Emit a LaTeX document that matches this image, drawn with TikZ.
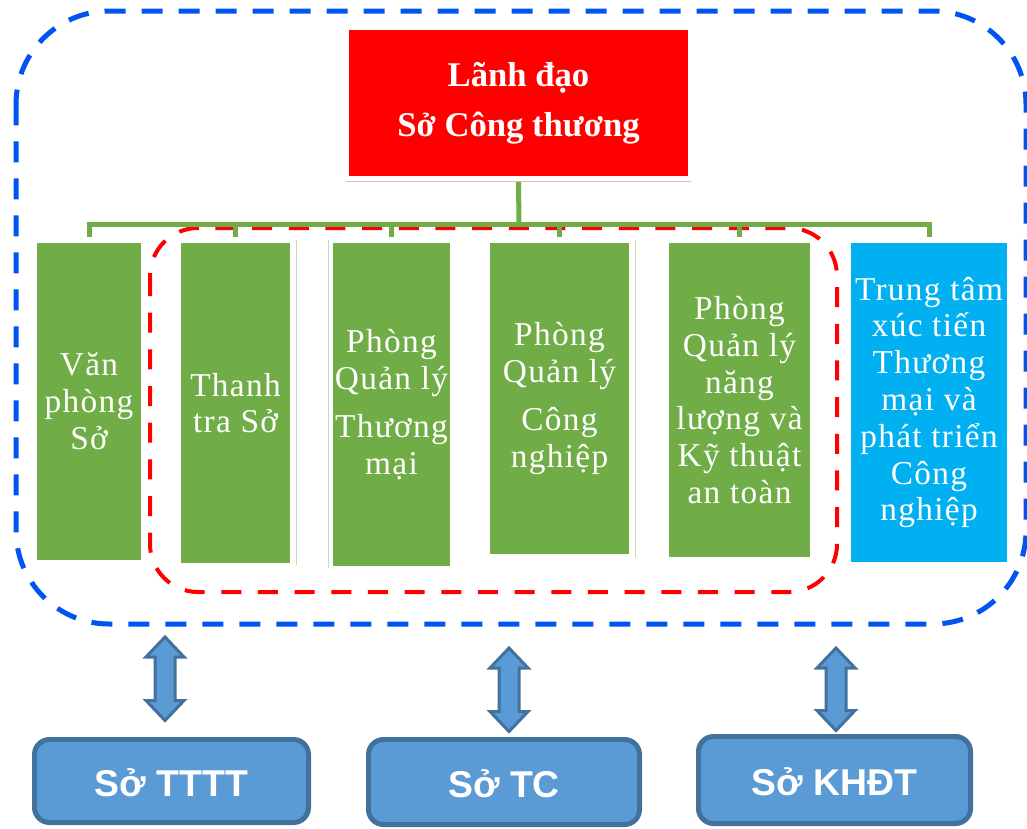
\documentclass[tikz,border=0pt]{standalone}
\usepackage{fontspec}
\setmainfont{Liberation Serif}
\newfontfamily\unitfont{Liberation Serif}[LetterSpace=4]
\newfontfamily\partnerfont{Liberation Sans}
\usetikzlibrary{calc}
\definecolor{leadred}{RGB}{255,0,0}
\definecolor{unitgreen}{RGB}{112,173,71}
\definecolor{centercyan}{RGB}{0,176,240}
\definecolor{outerblue}{RGB}{0,84,240}
\definecolor{partnerfill}{RGB}{91,155,213}
\definecolor{partnerline}{RGB}{65,113,156}
\definecolor{shadowpink}{RGB}{246,178,178}
\definecolor{seamgreen}{RGB}{196,218,182}
\begin{document}
\begin{tikzpicture}[x=0.75pt,y=-0.75pt,
  sizebox/.style 2 args={minimum width=#1*0.75pt, minimum height=#2*0.75pt,
    inner sep=0pt, outer sep=0pt},
  unit/.style={fill=unitgreen, text=white, align=center,
    font=\unitfont\fontsize{25}{27.6}\selectfont},
  centre/.style={unit, fill=centercyan},
  conn/.style={draw=unitgreen, line width=3.75pt},
  partner/.style={fill=partnerfill, draw=partnerline, line width=3.75pt,
    rounded corners=11.25pt, text=white,
    font=\partnerfont\bfseries\fontsize{28}{30}\selectfont,
    text height=23pt, text depth=0pt},
  dblarrow/.style={fill=partnerfill, draw=partnerline, line width=2.25pt,
    line join=miter,
    to path={let \p1=(\tikztostart), \p2=(\tikztotarget) in
      (\x1,\y1) -- (\x1+14.25pt,\y1-15pt) -- (\x1+7.5pt,\y1-15pt)
      -- (\x1+7.5pt,\y2+15pt) -- (\x1+14.25pt,\y2+15pt) -- (\x1,\y2)
      -- (\x1-14.25pt,\y2+15pt) -- (\x1-7.5pt,\y2+15pt)
      -- (\x1-7.5pt,\y1-15pt) -- (\x1-14.25pt,\y1-15pt) -- cycle}},
]
\useasboundingbox (0,0) rectangle (1027,828);

% outer group of the department
\draw[outerblue, line width=3.75pt, dash pattern=on 15.75pt off 12pt,
  rounded corners=70pt] (16,11) rectangle (1026,624);
% inner group of the specialised offices
\draw[leadred, line width=3pt, dash pattern=on 15pt off 12.5pt,
  rounded corners=36pt] (150,228) rectangle (837,592);

% leadership
\node[sizebox={339}{146}, fill=leadred, text=white, align=center,
  font=\bfseries\fontsize{26}{37.5}\selectfont] (lead) at (518.5,103)
  {Lãnh đạo\\Sở Công thương};
\draw[shadowpink, line width=0.75pt]
  ($(lead.south west)+(-3,5.5)$) -- ($(lead.south east)+(3,5.5)$);

% units
\node[unit, sizebox={104}{317}] (b1) at (89,401.5) {Văn\\phòng\\Sở};
\node[unit, sizebox={109}{320}] (b2) at (235.5,403) {Thanh\\tra Sở};
\node[unit, sizebox={117}{323}] (b3) at (391.5,404.5)
  {Phòng\\Quản lý\\[8.5pt]Thương\\mại};
\node[unit, sizebox={139}{311}] (b4) at (559.5,398.5)
  {Phòng\\Quản lý\\[8.5pt]Công\\nghiệp};
\node[unit, sizebox={141}{314}] (b5) at (739.5,400)
  {Phòng\\Quản lý\\năng\\lượng và\\Kỹ thuật\\an toàn};
\node[centre, sizebox={156}{319}] (b6) at (929,402.5)
  {Trung tâm\\xúc tiến\\Thương\\mại và\\phát triển\\Công\\nghiệp};

% thin seams beside the unit boxes
\draw[seamgreen, line width=0.75pt] (296,240) -- (296,565);
\draw[seamgreen, line width=0.75pt] (328,240) -- (328,568);
\draw[seamgreen, line width=0.75pt] (635,240) -- (635,558);

% reporting lines
\coordinate (bus) at (519,224);
\draw[conn] ($(lead.south)+(0,6)$) -- (bus);
\draw[conn, line join=miter] ($(b1.north)+(0,-6)$) |- (bus) -| ($(b6.north)+(0,-6)$);
\foreach \b in {b2,b3,b4,b5}
  \draw[conn] ($(\b.north)+(0,-6)$) -- (\b.north |- bus);

% partner departments
\node[partner, sizebox={274}{83}] (tttt) at (171.5,781) {Sở TTTT};
\node[partner, sizebox={271}{85}] (tc) at (504,782) {Sở TC};
\node[partner, sizebox={272}{87}] (khdt) at (834.5,780) {Sở KHĐT};

% two-way links
\coordinate (a1t) at (165,637);
\coordinate (a1b) at ($(tttt.north -| 165,0)+(0,-19)$);
\coordinate (a2t) at (509,648);
\coordinate (a2b) at ($(tc.north -| 509,0)+(0,-8)$);
\coordinate (a3t) at (836,648);
\coordinate (a3b) at ($(khdt.north -| 836,0)+(0,-6)$);
\path[dblarrow] (a1t) to (a1b);
\path[dblarrow] (a2t) to (a2b);
\path[dblarrow] (a3t) to (a3b);
\end{tikzpicture}
\end{document}
